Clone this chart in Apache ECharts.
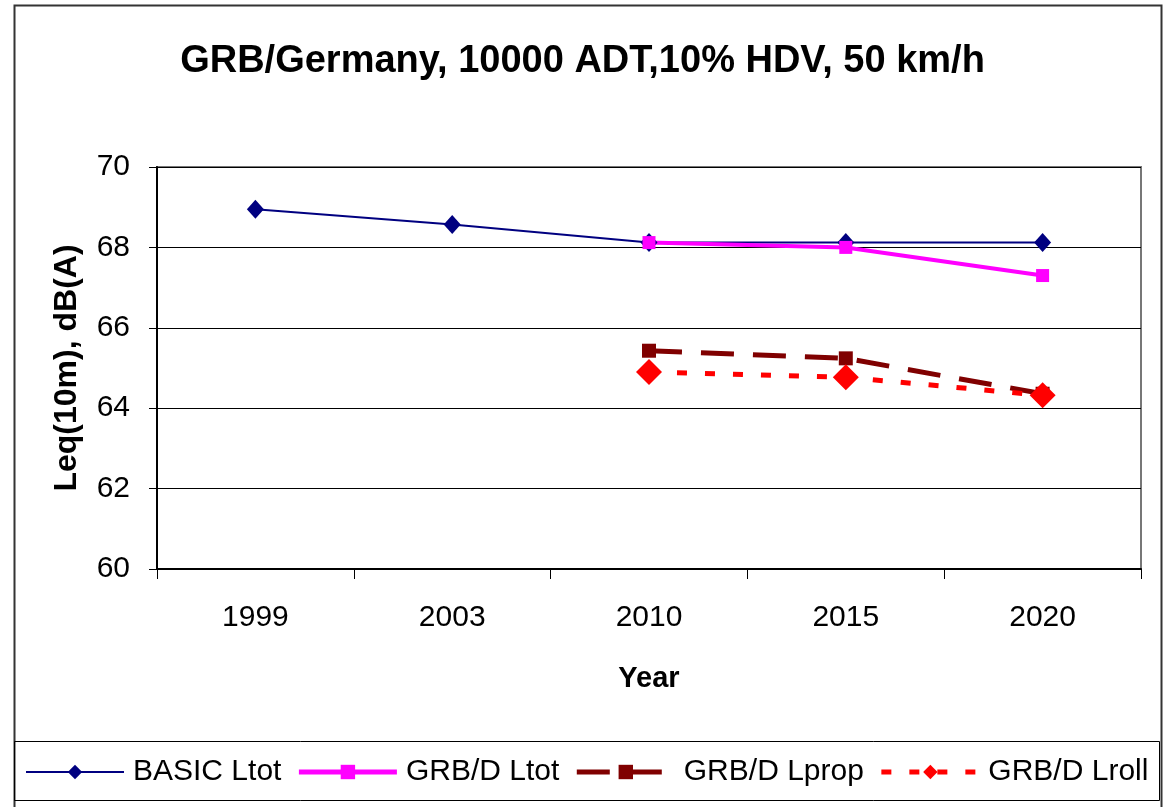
<!DOCTYPE html>
<html>
<head>
<meta charset="utf-8">
<script src="https://cdn.jsdelivr.net/npm/echarts@6/dist/echarts.min.js"></script>
<style>
html,body{margin:0;padding:0;background:#fff;}
#chart{width:1165px;height:807px;}
</style>
</head>
<body>
<div id="chart"></div>
<script>
const categories = ['1999', '2003', '2010', '2015', '2020'];
const basicLtot = [68.95, 68.57, 68.12, 68.12, 68.12];
const grbLtot = [null, null, 68.12, 68.0, 67.3];
const grbLprop = [null, null, 65.43, 65.24, 64.36];
const grbLroll = [null, null, 64.9, 64.77, 64.32];
const yTicks = { min: 60, max: 70, interval: 2 };

const FONT = '"Liberation Sans", Arial, sans-serif';
const chart = echarts.init(document.getElementById('chart'), null, { renderer: 'canvas' });

chart.setOption({
  backgroundColor: '#fff',
  animation: false,
  title: {
    text: 'GRB/Germany, 10000 ADT,10% HDV, 50 km/h',
    left: 'center',
    top: 38,
    textStyle: { fontFamily: FONT, fontSize: 38, fontWeight: 'bold', color: '#000' }
  },
  graphic: [
    { type: 'rect', shape: { x: 14.5, y: 5.5, width: 1147, height: 900 }, style: { fill: null, stroke: '#333', lineWidth: 2 }, silent: true, z: -1 },
    { type: 'rect', shape: { x: 14.5, y: 741.5, width: 1145, height: 59 }, style: { fill: null, stroke: '#000', lineWidth: 1 }, silent: true, z: -1 }
  ],
  legend: {
    left: 25,
    top: 757,
    padding: 0,
    itemWidth: 98,
    itemHeight: 18,
    itemGap: 15,
    textStyle: { fontFamily: FONT, fontSize: 30, color: '#000', padding: [0, 0, 0, 4] },
    data: [
      { name: 'BASIC Ltot', lineStyle: { width: 2 } },
      { name: 'GRB/D Ltot', lineStyle: { width: 5 } },
      { name: 'GRB/D Lprop', lineStyle: { width: 5 } },
      { name: 'GRB/D Lroll', lineStyle: { width: 5 } }
    ]
  },
  grid: { left: 157, right: 24, top: 167, bottom: 238, show: true, borderColor: '#777', borderWidth: 2, backgroundColor: '#fff' },
  xAxis: {
    type: 'category',
    data: categories,
    boundaryGap: true,
    name: 'Year',
    nameLocation: 'middle',
    nameGap: 95,
    nameTextStyle: { fontFamily: FONT, fontSize: 29, fontWeight: 'bold', color: '#000' },
    axisLine: { lineStyle: { color: '#000', width: 2 } },
    axisTick: { show: true, length: 10, alignWithLabel: false, lineStyle: { color: '#000', width: 1 } },
    axisLabel: { fontFamily: FONT, fontSize: 30, color: '#000', margin: 34 },
    splitLine: { show: false }
  },
  yAxis: {
    type: 'value',
    min: yTicks.min,
    max: yTicks.max,
    interval: yTicks.interval,
    name: 'Leq(10m), dB(A)',
    nameLocation: 'middle',
    nameGap: 74,
    nameRotate: 90,
    nameTextStyle: { fontFamily: FONT, fontSize: 32, fontWeight: 'bold', color: '#000' },
    axisLine: { show: true, lineStyle: { color: '#000', width: 2 } },
    axisTick: { show: true, length: 8, inside: false, lineStyle: { color: '#000', width: 1 } },
    axisLabel: { fontFamily: FONT, fontSize: 30, color: '#000', margin: 27 },
    splitLine: { show: true, lineStyle: { color: '#000', width: 1 } }
  },
  series: [
    {
      name: 'BASIC Ltot', type: 'line', data: basicLtot,
      symbol: 'diamond', symbolSize: [17, 19],
      lineStyle: { color: '#000080', width: 2 },
      itemStyle: { color: '#000080' }
    },
    {
      name: 'GRB/D Ltot', type: 'line', data: grbLtot,
      symbol: 'rect', symbolSize: 13,
      lineStyle: { color: '#FF00FF', width: 4 },
      itemStyle: { color: '#FF00FF' }
    },
    {
      name: 'GRB/D Lprop', type: 'line', data: grbLprop,
      symbol: 'rect', symbolSize: 14,
      lineStyle: { color: '#800000', width: 5, type: [33, 19] },
      itemStyle: { color: '#800000' }
    },
    {
      name: 'GRB/D Lroll', type: 'line', data: grbLroll,
      symbol: 'diamond', symbolSize: 26,
      lineStyle: { color: '#FF0000', width: 5, type: [10, 18] },
      itemStyle: { color: '#FF0000' }
    }
  ]
});
</script>
</body>
</html>
